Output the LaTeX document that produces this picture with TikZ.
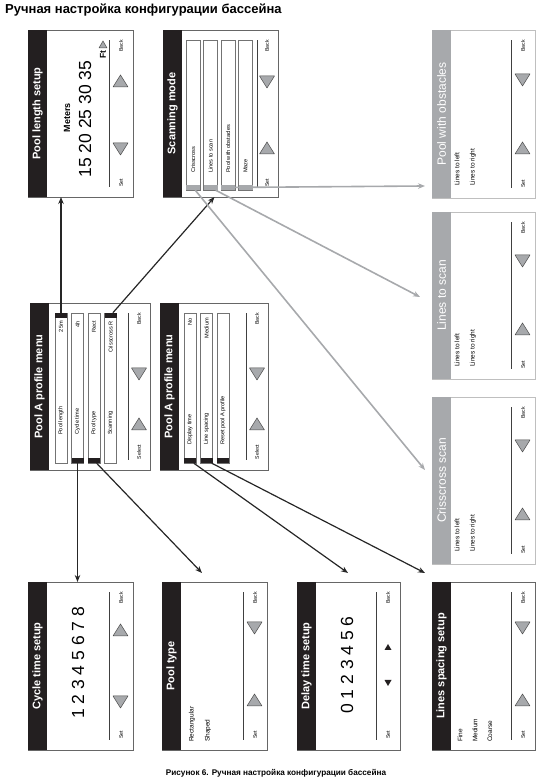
\documentclass[tikz,border=0pt]{standalone}
\usepackage{fontspec}
\setmainfont{Liberation Sans}
\usetikzlibrary{arrows.meta}

\definecolor{panelgrey}{HTML}{A7A9AC}
\definecolor{bardark}{HTML}{231F20}

\begin{document}
\begin{tikzpicture}[x=1pt,y=1pt,>={Stealth[length=7pt,width=5.5pt]},
  frame/.style={draw=black!60,line width=0.8pt,fill=white,inner sep=0pt,outer sep=0pt},
  greyframe/.style={draw=black!25,line width=0.8pt,fill=white,inner sep=0pt,outer sep=0pt},
  title/.style={text=white,font=\bfseries\fontsize{11}{12}\selectfont,inner sep=0pt},
  greytitle/.style={text=white,font=\fontsize{12}{13}\selectfont,inner sep=0pt},
  small/.style={font=\fontsize{5.6}{6}\selectfont,inner sep=0pt},
  option/.style={font=\fontsize{6.5}{7}\selectfont,inner sep=0pt},
  key/.style={font=\fontsize{5.2}{6}\selectfont,inner sep=0pt},
  big/.style={font=\fontsize{17.5}{18}\selectfont,inner sep=0pt},
  item/.style={draw=black!55,line width=0.6pt,fill=white,inner sep=0pt,minimum width=150},
  tab/.style={fill=bardark,inner sep=0pt,minimum width=5,minimum height=12},
  greytab/.style={fill=panelgrey,inner sep=0pt,minimum width=5,minimum height=14},
  keyline/.style={line width=1pt,black!75},
  tri/.style={fill=panelgrey,draw=black!70,line width=0.5pt,line join=round},
  link/.style={->,line width=1.2pt,black!85},
  glink/.style={->,line width=1.6pt,panelgrey}]

\useasboundingbox (0,0) rectangle (543,783);

\node[anchor=north west,inner sep=0pt,font=\bfseries\fontsize{13}{15}\selectfont] (header) at (5,779) {Ручная настройка конфигурации бассейна};
\node[inner sep=0pt,font=\bfseries\fontsize{8.2}{9}\selectfont] (caption) at (276,10) {Рисунок 6. Ручная настройка конфигурации бассейна};

% Pool length setup
\begin{scope}[shift={(133,586)},rotate=90,transform shape]
  \node[frame,minimum width=167,minimum height=105] (plen) at (83.5,52.5) {};
  \fill[bardark] (0,86) rectangle (167,105);
  \node[title] (plentitle) at (83.5,95.5) {Pool length setup};
  \node[inner sep=0pt,font=\bfseries\fontsize{9}{10}\selectfont] (plenmeters) at (79,66) {Meters};
  \node[big] (plennum) at (78,48) {15 20 25 30 35};
  \node[inner sep=0pt,font=\bfseries\fontsize{8.5}{9}\selectfont] (plenft) at (142,30) {Ft};
  \draw[tri] (149,26) -- (156,30) -- (149,34) -- cycle;
  \draw[keyline] (10,23.5) -- (157,23.5);
  \node[key] (plenset) at (14,12) {Set};
  \node[key] (plenback) at (151,12) {Back};
  \draw[tri] (54,5) -- (42,12.5) -- (54,20) -- cycle;
  \draw[tri] (110,5) -- (122,12.5) -- (110,20) -- cycle;
\end{scope}

% Scanning mode
\begin{scope}[shift={(278,586)},rotate=90,transform shape]
  \node[frame,minimum width=167,minimum height=115] (scan) at (83.5,57.5) {};
  \fill[bardark] (0,96) rectangle (167,115);
  \node[title] (scantitle) at (83.5,105.5) {Scanning mode};
  \node[item,minimum height=14] (is1) at (82,85) {};
  \node[item,minimum height=14] (is2) at (82,67.5) {};
  \node[item,minimum height=14] (is3) at (82,50) {};
  \node[item,minimum height=14] (is4) at (82,32.5) {};
  \node[greytab] (tcriss) at (9.5,85) {};
  \node[greytab] (tlines) at (9.5,67.5) {};
  \node[greytab] (tobst) at (9.5,50) {};
  \node[greytab] (tmaze) at (9.5,32.5) {};
  \node[small,anchor=west] (is1l) at (24,85) {Crisscross};
  \node[small,anchor=west] (is2l) at (24,67.5) {Lines to scan};
  \node[small,anchor=west] (is3l) at (24,50) {Pool with obstacles};
  \node[small,anchor=west] (is4l) at (24,32.5) {Maze};
  \draw[keyline] (10,21) -- (157,21);
  \node[key] (scanset) at (14,11) {Set};
  \node[key] (scanback) at (151,11) {Back};
  \draw[tri] (43,3.5) -- (55,11) -- (43,18.5) -- cycle;
  \draw[tri] (121,3.5) -- (109,11) -- (121,18.5) -- cycle;
\end{scope}

% Pool with obstacles
\begin{scope}[shift={(535,585)},rotate=90,transform shape]
  \node[greyframe,minimum width=168,minimum height=103] (obst) at (84,51.5) {};
  \fill[panelgrey] (0,84) rectangle (168,103);
  \node[greytitle] (obsttitle) at (84,93.5) {Pool with obstacles};
  \node[option,anchor=west] (obstl) at (12,78) {Lines to left};
  \node[option,anchor=west] (obstr) at (12,62) {Lines to right};
  \draw[keyline] (10,23.5) -- (158,23.5);
  \node[key] (obstset) at (14,12) {Set};
  \node[key] (obstback) at (152,12) {Back};
  \draw[tri] (44,5) -- (56,12.5) -- (44,20) -- cycle;
  \draw[tri] (124,5) -- (112,12.5) -- (124,20) -- cycle;
\end{scope}

% Lines to scan
\begin{scope}[shift={(535,404)},rotate=90,transform shape]
  \node[greyframe,minimum width=167,minimum height=103] (lscan) at (83.5,51.5) {};
  \fill[panelgrey] (0,84) rectangle (167,103);
  \node[greytitle] (lscantitle) at (83.5,93.5) {Lines to scan};
  \node[option,anchor=west] (lscanl) at (12,78) {Lines to left};
  \node[option,anchor=west] (lscanr) at (12,62) {Lines to right};
  \draw[keyline] (10,23.5) -- (157,23.5);
  \node[key] (lscanset) at (14,12) {Set};
  \node[key] (lscanback) at (151,12) {Back};
  \draw[tri] (44,5) -- (56,12.5) -- (44,20) -- cycle;
  \draw[tri] (124,5) -- (112,12.5) -- (124,20) -- cycle;
\end{scope}

% Crisscross scan
\begin{scope}[shift={(535,219)},rotate=90,transform shape]
  \node[greyframe,minimum width=167,minimum height=103] (criss) at (83.5,51.5) {};
  \fill[panelgrey] (0,84) rectangle (167,103);
  \node[greytitle] (crisstitle) at (83.5,93.5) {Crisscross scan};
  \node[option,anchor=west] (crissl) at (12,78) {Lines to left};
  \node[option,anchor=west] (crissr) at (12,62) {Lines to right};
  \draw[keyline] (10,23.5) -- (157,23.5);
  \node[key] (crissset) at (14,12) {Set};
  \node[key] (crissback) at (151,12) {Back};
  \draw[tri] (44,5) -- (56,12.5) -- (44,20) -- cycle;
  \draw[tri] (124,5) -- (112,12.5) -- (124,20) -- cycle;
\end{scope}

% Pool A profile menu, first page
\begin{scope}[shift={(150,313)},rotate=90,transform shape]
  \node[frame,minimum width=167,minimum height=120] (menua) at (83.5,60) {};
  \fill[bardark] (0,101) rectangle (167,120);
  \node[title] (menuatitle) at (83.5,110.5) {Pool A profile menu};
  \node[item,minimum height=12] (ia1) at (82,89) {};
  \node[item,minimum height=12] (ia2) at (82,72.5) {};
  \node[item,minimum height=12] (ia3) at (82,56) {};
  \node[item,minimum height=12] (ia4) at (82,39.5) {};
  \node[tab] (tplen) at (154.5,89) {};
  \node[tab] (tcycle) at (9.5,72.5) {};
  \node[tab] (tptype) at (9.5,56) {};
  \node[tab] (tscanning) at (154.5,39.5) {};
  \node[small,anchor=west] (ia1l) at (35,89) {Pool length};
  \node[small,anchor=west] (ia2l) at (35,72.5) {Cycle time};
  \node[small,anchor=west] (ia3l) at (35,56) {Pool type};
  \node[small,anchor=west] (ia4l) at (35,39.5) {Scanning};
  \node[small,anchor=east] (ia1v) at (149,89) {25m};
  \node[small,anchor=east] (ia2v) at (149,72.5) {4h};
  \node[small,anchor=east] (ia3v) at (149,56) {Rect};
  \node[small,anchor=east] (ia4v) at (149,39.5) {Crisscross R};
  \draw[keyline] (10,22) -- (157,22);
  \node[key] (menuaselect) at (18,11) {Select};
  \node[key] (menuaback) at (151,11) {Back};
  \draw[tri] (40,3.5) -- (52,11) -- (40,18.5) -- cycle;
  \draw[tri] (102,3.5) -- (90,11) -- (102,18.5) -- cycle;
\end{scope}

% Pool A profile menu, second page
\begin{scope}[shift={(268,313)},rotate=90,transform shape]
  \node[frame,minimum width=167,minimum height=108] (menub) at (83.5,54) {};
  \fill[bardark] (0,89) rectangle (167,108);
  \node[title] (menubtitle) at (83.5,98.5) {Pool A profile menu};
  \node[item,minimum height=12] (ib1) at (82,78) {};
  \node[item,minimum height=12] (ib2) at (82,61.5) {};
  \node[item,minimum height=12] (ib3) at (82,45) {};
  \node[tab] (tdisp) at (9.5,78) {};
  \node[tab] (tlsp) at (9.5,61.5) {};
  \node[tab] (treset) at (9.5,45) {};
  \node[small,anchor=west] (ib1l) at (25,78) {Display time};
  \node[small,anchor=west] (ib2l) at (25,61.5) {Line spacing};
  \node[small,anchor=west] (ib3l) at (25,45) {Reset pool A profile};
  \node[small,anchor=east] (ib1v) at (152,78) {No};
  \node[small,anchor=east] (ib2v) at (152,61.5) {Medium};
  \draw[keyline] (10,22) -- (157,22);
  \node[key] (menubselect) at (18,11) {Select};
  \node[key] (menubback) at (151,11) {Back};
  \draw[tri] (40,3.5) -- (52,11) -- (40,18.5) -- cycle;
  \draw[tri] (102,3.5) -- (90,11) -- (102,18.5) -- cycle;
\end{scope}

% Cycle time setup
\begin{scope}[shift={(133,33)},rotate=90,transform shape]
  \node[frame,minimum width=168,minimum height=105] (cyc) at (84,52.5) {};
  \fill[bardark] (0,86) rectangle (168,105);
  \node[title] (cyctitle) at (84,95.5) {Cycle time setup};
  \node[big] (cycnum) at (87,55) {1 2 3 4 5 6 7 8};
  \draw[keyline] (10,23.5) -- (158,23.5);
  \node[key] (cycset) at (15,12) {Set};
  \node[key] (cycback) at (152,12) {Back};
  \draw[tri] (54,5) -- (42,12.5) -- (54,20) -- cycle;
  \draw[tri] (114,5) -- (126,12.5) -- (114,20) -- cycle;
\end{scope}

% Pool type
\begin{scope}[shift={(267,33)},rotate=90,transform shape]
  \node[frame,minimum width=168,minimum height=105] (ptype) at (84,52.5) {};
  \fill[bardark] (0,86) rectangle (168,105);
  \node[title] (ptypetitle) at (84,95.5) {Pool type};
  \node[option,anchor=west] (ptyperect) at (8,75) {Rectangular};
  \node[option,anchor=west] (ptypeshaped) at (8,59) {Shaped};
  \draw[keyline] (10,23.5) -- (158,23.5);
  \node[key] (ptypeset) at (15,12) {Set};
  \node[key] (ptypeback) at (152,12) {Back};
  \draw[tri] (44,5) -- (56,12.5) -- (44,20) -- cycle;
  \draw[tri] (128,5) -- (116,12.5) -- (128,20) -- cycle;
\end{scope}

% Delay time setup
\begin{scope}[shift={(400,33)},rotate=90,transform shape]
  \node[frame,minimum width=168,minimum height=103] (delay) at (84,51.5) {};
  \fill[bardark] (0,84) rectangle (168,103);
  \node[title] (delaytitle) at (84,93.5) {Delay time setup};
  \node[big] (delaynum) at (85,53) {0 1 2 3 4 5 6};
  \draw[keyline] (10,23.5) -- (158,23.5);
  \node[key] (delayset) at (15,12) {Set};
  \node[key] (delayback) at (152,12) {Back};
  \fill[bardark] (70,8.5) -- (64,12) -- (70,15.5) -- cycle;
  \fill[bardark] (100,8.5) -- (106,12) -- (100,15.5) -- cycle;
\end{scope}

% Lines spacing setup
\begin{scope}[shift={(535,33)},rotate=90,transform shape]
  \node[frame,minimum width=168,minimum height=103] (lsp) at (84,51.5) {};
  \fill[bardark] (0,84) rectangle (168,103);
  \node[title] (lsptitle) at (84,93.5) {Lines spacing setup};
  \node[option,anchor=west] (lspfine) at (8,75) {Fine};
  \node[option,anchor=west] (lspmedium) at (8,60) {Medium};
  \node[option,anchor=west] (lspcoarse) at (8,45) {Coarse};
  \draw[keyline] (10,23.5) -- (158,23.5);
  \node[key] (lspset) at (15,12) {Set};
  \node[key] (lspback) at (152,12) {Back};
  \draw[tri] (44,5) -- (56,12.5) -- (44,20) -- cycle;
  \draw[tri] (128,5) -- (116,12.5) -- (128,20) -- cycle;
\end{scope}

% menu links
\draw[link] (tplen) -- (tplen |- plen.west);
\draw[link] (tscanning) -- ([xshift=-6]scan.west);
\draw[link] (tcycle) -- (tcycle |- cyc.east);
\draw[link] (tptype) -- ([shift={(40,9)}]ptype.north east);
\draw[link] (tdisp) -- ([shift={(51,9)}]delay.north east);
\draw[link] (tlsp) -- ([shift={(-7,9)}]lsp.north east);

% scanning mode links
\draw[glink] (tcriss) -- ([shift={(-7,-73)}]criss.north east);
\draw[glink] (tlines) -- ([shift={(-12,-85)}]lscan.north east);
\draw[glink] (tobst) -- ([shift={(-7,-156)}]obst.north east);
\end{tikzpicture}
\end{document}
